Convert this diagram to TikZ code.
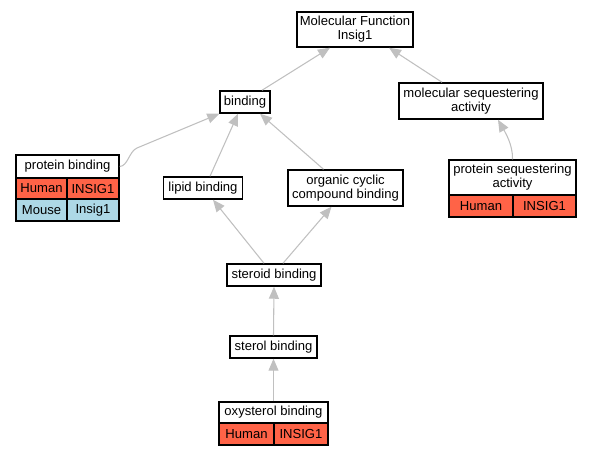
\documentclass[tikz,border=0pt]{standalone}
\usepackage{fontspec}
\setmainfont{Liberation Sans}
\usepackage{xcolor}
\usepackage{tikz}
\usetikzlibrary{arrows.meta,calc}
\definecolor{human}{HTML}{FF6347}
\definecolor{mouse}{HTML}{ADD8E6}
\definecolor{edgegray}{HTML}{C0C0C0}

\begin{document}
\begin{tikzpicture}[x=0.75pt,y=-0.75pt,
	every node/.style={font=\fontsize{9.8}{10.5}\selectfont, inner sep=0pt, align=center},
	box/.style 2 args={minimum width=#1*0.75pt, minimum height=#2*0.75pt},
	term/.style={draw=black, line width=1.1pt, fill=white},
	cell/.style={draw=black, line width=0.8pt},
	edge/.style={draw=edgegray, line width=0.8pt, -{Triangle[length=9pt,width=7.5pt]}}]
	\useasboundingbox (0,0) rectangle (591,456);
	\coordinate (c1) at (355,29.5);
	\coordinate (c2) at (245,102);
	\coordinate (c3) at (471,101);
	\coordinate (c4) at (203,188);
	\coordinate (c5) at (345.5,188);
	\coordinate (c6) at (274,275);
	\coordinate (c7) at (273.5,347);
	\coordinate (p1) at (67.5,166.5);
	\coordinate (p2) at (41.5,188.5);
	\coordinate (p3) at (93,188.5);
	\coordinate (p4) at (41.5,210);
	\coordinate (p5) at (93,210);
	\coordinate (s1) at (512.5,177.5);
	\coordinate (s2) at (481,206);
	\coordinate (s3) at (544.5,206);
	\coordinate (x1) at (273.5,412.5);
	\coordinate (x2) at (246.5,434);
	\coordinate (x3) at (301,434);
	\coordinate (pbBend) at (137,148);
	
	\node (mf) at (c1) [term,box={116}{35}] {Molecular Function\\Insig1};
	\node (bind) at (c2) [term,box={50}{22}] {binding};
	\node (msa) at (c3) [term,box={144}{36}] {molecular sequestering\\activity};
	\node (lipid) at (c4) [term,box={79}{22}] {lipid binding};
	\node (org) at (c5) [term,box={115}{36}] {organic cyclic\\compound binding};
	\node (steroid) at (c6) [term,box={94}{22}] {steroid binding};
	\node (sterol) at (c7) [term,box={87}{22}] {sterol binding};
	
	\node (pbT) at (p1) [term,box={103}{23}] {protein binding};
	\node (pbH) at (p2) [cell,fill=human,box={51}{21}] {Human};
	\node (pbHg) at (p3) [cell,fill=human,box={52}{21}] {INSIG1};
	\node (pbM) at (p4) [cell,fill=mouse,box={51}{22}] {Mouse};
	\node (pbMg) at (p5) [cell,fill=mouse,box={52}{22}] {Insig1};
	
	\node (psaT) at (s1) [term,box={127}{35}] {protein sequestering\\activity};
	\node (psaH) at (s2) [cell,fill=human,box={64}{22}] {Human};
	\node (psaHg) at (s3) [cell,fill=human,box={63}{22}] {INSIG1};
	
	\node (oxyT) at (x1) [term,box={109}{21}] {oxysterol binding};
	\node (oxyH) at (x2) [cell,fill=human,box={55}{22}] {Human};
	\node (oxyHg) at (x3) [cell,fill=human,box={54}{22}] {INSIG1};
	
	\draw[edge] ($(bind.north)+(17,0)$) -- ($(mf.south)+(-25,0)$);
	\draw[edge] ($(msa.north)+(-29,0)$) -- ($(mf.south)+(34,0)$);
	\draw[edge] (pbT.east) .. controls (128,166) and (129,151.4) .. (pbBend) -- (bind.south west);
	\draw[edge] ($(lipid.north)+(7,0)$) -- ($(bind.south)+(-7,0)$);
	\draw[edge] ($(org.north)+(-22,0)$) -- ($(bind.south)+(15,0)$);
	\draw[edge] (psaT.north) .. controls (513,145) and (505,132) .. ($(msa.south)+(27,0)$);
	\draw[edge] ($(steroid.north)+(-10,0)$) -- ($(lipid.south)+(10,0)$);
	\draw[edge] ($(steroid.north)+(9,0)$) -- ($(org.south)+(-14,0)$);
	\draw[edge] (sterol.north) -- (steroid.south);
	\draw[edge] (oxyT.north) -- (sterol.south);
\end{tikzpicture}
\end{document}
